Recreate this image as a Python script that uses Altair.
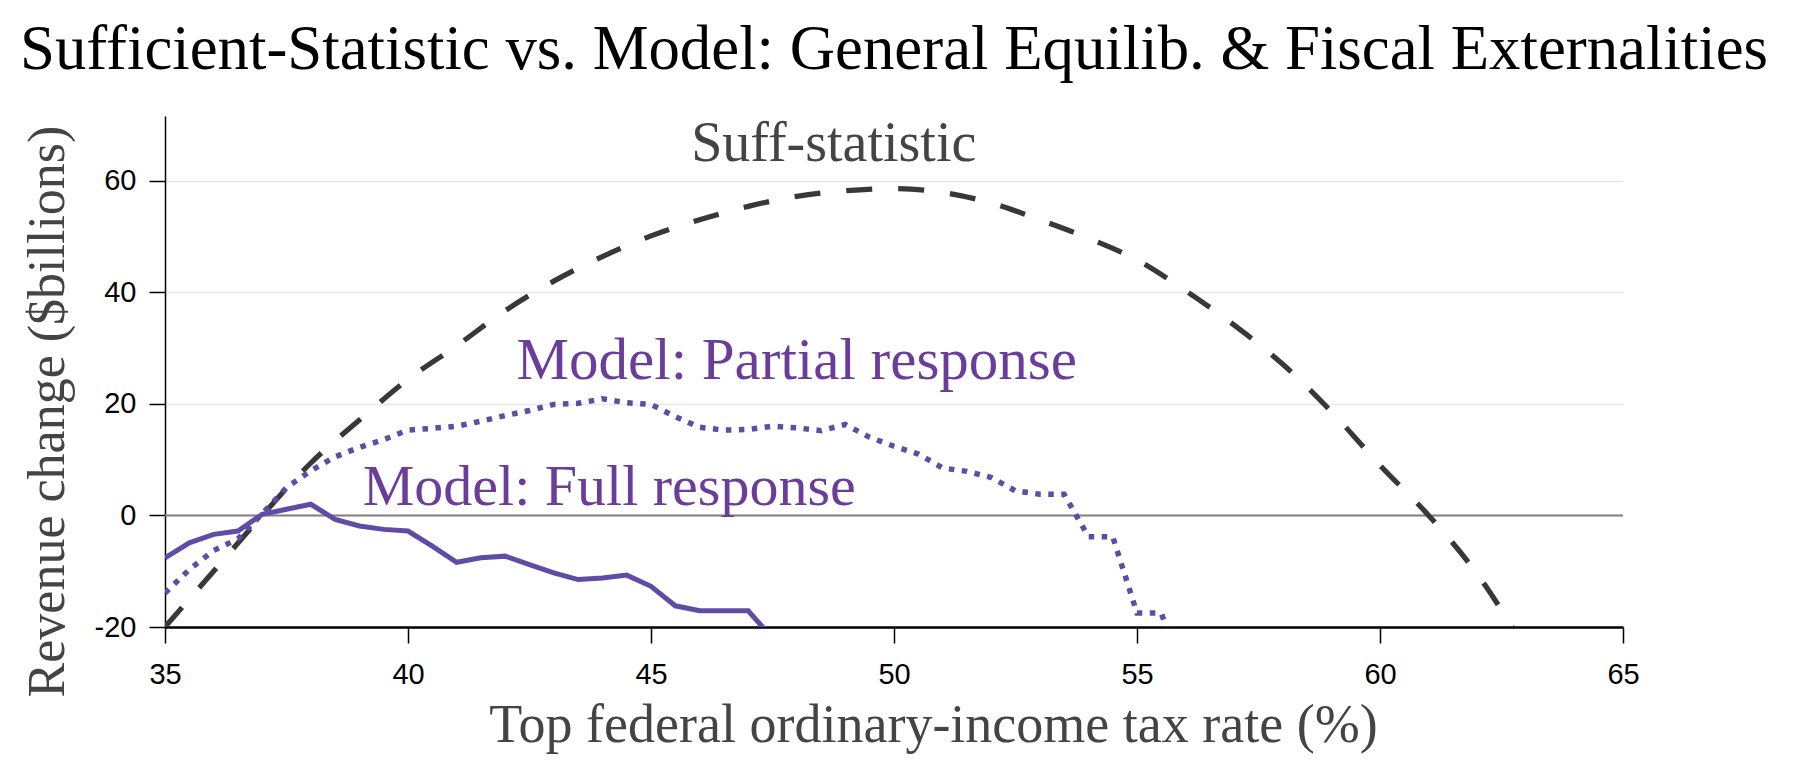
import altair as alt
import pandas as pd

# ---- data ----
suff_rate = [35, 36, 37, 38, 39, 40, 41, 42, 43, 44, 45, 46, 47, 48, 49, 50,
             51, 52, 53, 54, 55, 56, 57, 58, 59, 60, 61, 62, 63]
suff_rev = [-20, -10, 0, 9.4, 17.1, 24.4, 30.4, 36.7, 42.0, 46.4, 50.1, 53.0,
            55.4, 57.2, 58.2, 58.6, 57.9, 56.0, 53.0, 49.7, 45.8, 40.3, 34.1,
            27.1, 18.6, 9.0, 0, -10.5, -24]

partial_rate = [35, 35.5, 36, 36.5, 37, 37.5, 38, 38.5, 39, 39.5, 40, 40.5, 41,
                41.5, 42, 42.5, 43, 43.5, 44, 44.5, 45, 45.5, 46, 46.5, 47,
                47.5, 48, 48.5, 49, 49.5, 50, 50.5, 51, 51.5, 52, 52.5, 53,
                53.5, 54, 54.5, 55, 55.5, 56]
partial_rev = [-13.9, -9.7, -6.3, -4.2, 0.3, 5.0, 8.0, 10.5, 12.2, 13.6, 15.3,
               15.6, 16.0, 16.9, 17.9, 18.8, 19.9, 20.1, 20.9, 20.2, 19.9, 17.7,
               15.8, 15.3, 15.4, 16.0, 15.7, 15.2, 16.3, 14.0, 12.4, 11.0, 8.5,
               7.9, 6.8, 4.4, 3.8, 3.8, -3.8, -3.8, -17.5, -17.5, -30]

full_rate = [35, 35.5, 36, 36.5, 37, 37.5, 38, 38.5, 39, 39.5, 40, 40.5, 41,
             41.5, 42, 42.5, 43, 43.5, 44, 44.5, 45, 45.5, 46, 46.5, 47, 47.5]
full_rev = [-7.6, -4.9, -3.4, -2.8, 0.2, 1.1, 2.0, -0.7, -1.9, -2.5, -2.8, -5.5,
            -8.4, -7.6, -7.3, -8.8, -10.3, -11.5, -11.2, -10.7, -12.7, -16.2,
            -17.1, -17.1, -17.1, -22]

label_text = ["Suff-statistic", "Model: Partial response", "Model: Full response"]
label_rate = [48.76, 48.0, 44.14]
label_rev = [63.5, 24.5, 1.9]

y_ticks = [-20, 0, 20, 40, 60]
x_ticks = [35, 40, 45, 50, 55, 60, 65]

TITLE = "Sufficient-Statistic vs. Model: General Equilib. & Fiscal Externalities"
X_TITLE = "Top federal ordinary-income tax rate (%)"
Y_TITLE = "Revenue change ($billions)"

PURPLE_LINE = "#5e4ca5"
PURPLE_TEXT = "#6a3d9a"
DARK = "#383838"
SERIF = "Liberation Serif"
SANS = "Liberation Sans"

suff_df = pd.DataFrame({"rate": suff_rate, "revenue": suff_rev})
partial_df = pd.DataFrame({"rate": partial_rate, "revenue": partial_rev})
full_df = pd.DataFrame({"rate": full_rate, "revenue": full_rev})

x_enc = alt.X(
    "rate:Q",
    scale=alt.Scale(domain=[35, 65], nice=False, zero=False),
    axis=alt.Axis(
        values=x_ticks, title=X_TITLE, grid=False, labelFlush=False,
        labelFont=SANS, labelFontSize=29, labelColor="black", labelPadding=17,
        tickSize=16, tickWidth=1.5, tickColor="black",
        domainColor="black", domainWidth=2.5,
        titleFont=SERIF, titleFontSize=54, titleFontWeight="normal",
        titleColor="#444444", titleX=768, titleY=114,
        titleBaseline="alphabetic", titleAlign="center",
    ),
)
y_enc = alt.Y(
    "revenue:Q",
    scale=alt.Scale(domain=[-20, 71.6], nice=False, zero=False),
    axis=alt.Axis(
        values=y_ticks, title=Y_TITLE, grid=True, labelFlush=False,
        gridColor="#e8e8e8", gridWidth=1.5,
        labelExpr="'' + datum.value",
        labelFont=SANS, labelFontSize=29, labelColor="black", labelPadding=13,
        tickSize=16, tickWidth=1.5, tickColor="black",
        domainColor="black", domainWidth=1.5,
        titleFont=SERIF, titleFontSize=52, titleFontWeight="normal",
        titleColor="#444444", titleAngle=270, titleX=-102, titleY=295,
        titleBaseline="alphabetic", titleAlign="center",
    ),
)

zero_rule = alt.Chart(pd.DataFrame({"revenue": [0]})).mark_rule(
    color="#808080", strokeWidth=2
).encode(y=y_enc)

suff_line = alt.Chart(suff_df).mark_line(
    color=DARK, strokeWidth=5.2, strokeDash=[26, 26], strokeCap="butt",
    interpolate="monotone", clip=True
).encode(x=x_enc, y=y_enc)

partial_line = alt.Chart(partial_df).mark_line(
    color=PURPLE_LINE, strokeWidth=5.5, strokeDash=[5.5, 7.5], strokeCap="butt",
    clip=True
).encode(x=x_enc, y=y_enc)

full_line = alt.Chart(full_df).mark_line(
    color=PURPLE_LINE, strokeWidth=5, clip=True
).encode(x=x_enc, y=y_enc)


def label_layer(i, color, size):
    df = pd.DataFrame({"rate": [label_rate[i]], "revenue": [label_rev[i]],
                       "label": [label_text[i]]})
    return alt.Chart(df).mark_text(
        font=SERIF, fontSize=size, color=color, align="center",
        baseline="alphabetic"
    ).encode(x=x_enc, y=y_enc, text="label:N")


chart = alt.layer(
    zero_rule, suff_line, partial_line, full_line,
    label_layer(0, "#444444", 56),
    label_layer(1, PURPLE_TEXT, 59),
    label_layer(2, PURPLE_TEXT, 58),
).properties(
    width=1458, height=511,
    background="white",
    title=alt.TitleParams(
        text=TITLE, font=SERIF, fontSize=62.8, fontWeight="normal",
        color="black", anchor="middle", baseline="bottom",
        offset=37, dy=66, frame="group",
    ),
    autosize=alt.AutoSizeParams(type="none"),
    padding={"left": 157, "top": 108, "right": 160, "bottom": 130},
).configure_view(strokeWidth=0)

chart.save("out.html", embed_options={"renderer": "svg", "actions": False})
